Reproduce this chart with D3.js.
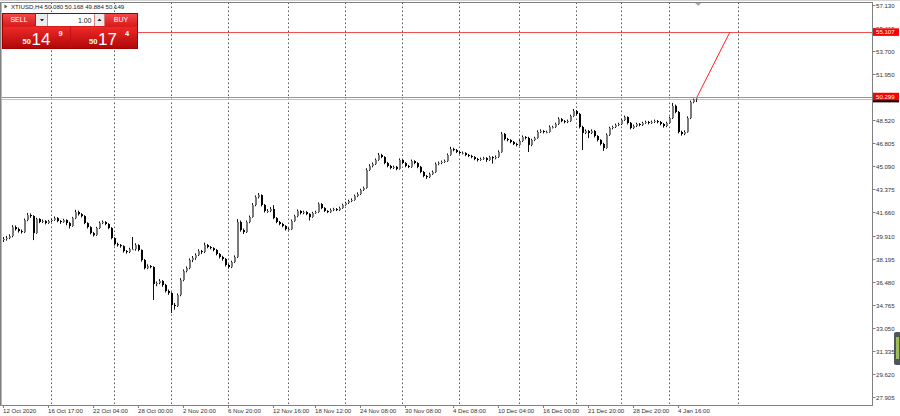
<!DOCTYPE html>
<html><head><meta charset="utf-8">
<script src="https://cdn.jsdelivr.net/npm/d3@7"></script>
<style>html,body{margin:0;padding:0;background:#fff;overflow:hidden}svg{display:block}text{font-family:"Liberation Sans",Arial,sans-serif}</style>
</head><body><svg id="c" width="900" height="416"></svg>
<script>
// ---- data ----
const symbol = "XTIUSD,H4";
const candles = [
[39.60,39.82,39.45,39.67],[39.67,39.90,39.55,39.74],[39.74,40.02,39.66,39.89],[39.89,40.70,39.80,40.56],[40.56,40.68,40.30,40.41],
[40.41,40.52,40.15,40.26],[40.26,40.38,40.08,40.19],[40.19,41.20,40.12,41.09],[41.09,41.62,41.00,41.46],[41.46,41.58,41.25,41.38],
[41.38,41.45,39.59,40.11],[40.11,41.25,40.05,41.16],[41.16,41.22,40.85,40.94],[40.94,41.12,40.86,41.01],[41.01,41.08,40.76,40.86],
[40.86,41.10,40.80,41.01],[41.01,41.20,40.92,41.09],[41.09,41.35,41.02,41.23],[41.23,41.30,40.92,41.01],[41.01,41.08,40.80,40.94],
[40.94,41.18,40.88,41.09],[41.09,41.14,40.70,40.86],[40.86,40.95,40.45,40.64],[40.64,41.32,40.58,41.23],[41.23,41.85,41.15,41.68],
[41.68,41.78,41.42,41.53],[41.53,41.60,41.28,41.38],[41.38,41.45,40.78,40.86],[40.86,40.92,40.45,40.56],[40.56,40.62,40.02,40.11],
[40.11,40.20,39.85,39.96],[39.96,40.58,39.90,40.49],[40.49,40.98,40.42,40.86],[40.86,41.05,40.78,40.94],[40.94,41.00,40.70,40.79],
[40.79,40.85,40.40,40.49],[40.49,40.55,39.65,39.74],[39.74,39.80,39.18,39.29],[39.29,39.40,39.10,39.22],[39.22,39.30,39.02,39.14],
[39.14,39.20,38.66,38.77],[38.77,38.85,38.58,38.70],[38.70,39.02,38.62,38.92],[38.92,39.82,38.85,38.92],[38.92,39.35,38.80,39.22],
[39.22,39.28,38.75,38.85],[38.85,38.90,37.98,38.10],[38.10,38.18,37.40,37.50],[37.50,37.78,37.42,37.65],[37.65,37.72,37.48,37.58],
[37.58,37.64,35.12,36.31],[36.31,36.50,36.15,36.39],[36.39,36.68,36.30,36.54],[36.54,36.60,36.10,36.24],[36.24,36.32,35.68,35.79],
[35.79,35.90,35.50,35.64],[35.64,35.70,34.15,34.75],[34.75,34.90,34.40,34.67],[34.67,35.60,34.60,35.49],[35.49,36.75,35.40,36.61],
[36.61,37.40,36.52,37.28],[37.28,37.62,37.18,37.50],[37.50,38.22,37.42,38.10],[38.10,38.40,37.95,38.25],[38.25,38.60,38.12,38.47],
[38.47,38.90,38.40,38.77],[38.77,38.85,38.55,38.70],[38.70,39.40,38.62,39.22],[39.22,39.30,38.98,39.07],[39.07,39.15,38.90,38.99],
[38.99,39.05,38.75,38.85],[38.85,38.92,38.45,38.55],[38.55,38.62,38.22,38.33],[38.33,38.42,38.05,38.18],[38.18,38.25,37.62,37.73],
[37.73,37.80,37.45,37.58],[37.58,38.05,37.50,37.95],[37.95,38.45,37.88,38.33],[38.33,41.15,38.25,40.94],[40.94,41.05,40.22,40.34],
[40.34,40.45,40.05,40.19],[40.19,41.05,40.12,40.94],[40.94,41.42,40.85,41.31],[41.31,42.35,41.25,42.21],[42.21,42.92,42.12,42.80],
[42.80,43.10,42.70,42.95],[42.95,43.00,42.10,42.21],[42.21,42.28,41.65,41.76],[41.76,41.90,41.62,41.76],[41.76,42.05,41.68,41.91],
[41.91,42.20,41.15,41.23],[41.23,41.30,40.85,40.94],[40.94,41.02,40.70,40.79],[40.79,40.88,40.55,40.64],[40.64,40.70,40.30,40.41],
[40.41,40.52,40.30,40.41],[40.41,41.12,40.35,41.01],[41.01,41.48,40.95,41.38],[41.38,41.88,41.30,41.76],[41.76,41.82,41.50,41.61],
[41.61,41.78,41.52,41.68],[41.68,41.75,41.45,41.53],[41.53,41.60,41.05,41.31],[41.31,41.70,41.25,41.61],[41.61,41.78,41.55,41.68],
[41.68,42.40,41.62,42.28],[42.28,42.35,41.90,41.98],[41.98,42.05,41.68,41.76],[41.76,41.82,41.60,41.68],[41.68,41.95,41.62,41.83],
[41.83,42.00,41.75,41.91],[41.91,41.98,41.75,41.83],[41.83,42.08,41.76,41.98],[41.98,42.30,41.92,42.21],[42.21,42.45,42.15,42.36],
[42.36,42.60,42.28,42.50],[42.50,42.70,42.42,42.58],[42.58,42.98,42.52,42.88],[42.88,43.15,42.80,43.03],[43.03,43.42,42.96,43.33],
[43.33,43.58,43.25,43.48],[43.48,44.95,43.42,44.82],[44.82,45.25,44.75,45.12],[45.12,45.38,45.02,45.27],[45.27,45.68,45.20,45.57],
[45.57,46.09,45.50,45.94],[45.94,46.02,45.70,45.79],[45.79,45.85,45.25,45.34],[45.34,45.42,45.02,45.12],[45.12,45.20,44.88,44.97],
[44.97,45.15,44.90,45.05],[45.05,45.12,44.80,44.90],[44.90,45.68,44.85,45.57],[45.57,45.62,45.25,45.34],[45.34,45.40,45.02,45.12],
[45.12,45.20,44.96,45.05],[45.05,45.60,44.98,45.49],[45.49,45.55,45.25,45.34],[45.34,45.40,44.95,45.05],[45.05,45.12,44.58,44.67],
[44.67,44.75,44.28,44.37],[44.37,44.45,44.15,44.30],[44.30,44.62,44.22,44.52],[44.52,44.78,44.45,44.67],[44.67,45.38,44.60,45.27],
[45.27,45.45,45.18,45.34],[45.34,45.52,45.25,45.42],[45.42,45.60,45.35,45.49],[45.49,46.05,45.42,45.94],[45.94,46.55,45.88,46.39],
[46.39,46.48,46.22,46.31],[46.31,46.38,46.08,46.16],[46.16,46.25,46.00,46.09],[46.09,46.20,45.98,46.09],[46.09,46.15,45.85,45.94],
[45.94,46.02,45.78,45.86],[45.86,45.95,45.70,45.79],[45.79,45.85,45.55,45.64],[45.64,45.72,45.45,45.57],[45.57,45.75,45.50,45.64],
[45.64,45.80,45.58,45.71],[45.71,45.78,45.42,45.57],[45.57,45.88,45.50,45.79],[45.79,45.85,45.30,45.71],[45.71,45.90,45.62,45.79],
[45.79,46.28,45.72,46.16],[46.16,47.65,46.10,47.51],[47.51,47.58,47.02,47.13],[47.13,47.22,46.95,47.06],[47.06,47.12,46.82,46.91],
[46.91,46.98,46.68,46.76],[46.76,46.85,46.58,46.69],[46.69,47.08,46.62,46.98],[46.98,47.40,46.90,47.28],[47.28,47.35,47.10,47.21],
[47.21,47.30,46.16,46.69],[46.69,47.15,46.60,47.06],[47.06,47.30,46.98,47.21],[47.21,47.78,47.15,47.66],[47.66,47.85,47.58,47.73],
[47.73,47.80,47.55,47.66],[47.66,47.75,47.56,47.66],[47.66,48.15,47.60,48.03],[48.03,48.12,47.92,48.03],[48.03,48.35,47.96,48.25],
[48.25,48.75,48.18,48.62],[48.62,48.70,48.38,48.47],[48.47,48.55,48.30,48.40],[48.40,48.58,48.32,48.47],[48.47,48.95,48.40,48.85],
[48.85,49.37,48.78,49.22],[49.22,49.30,48.90,49.00],[49.00,49.08,47.92,48.03],[48.03,48.12,46.31,47.58],[47.58,47.85,47.50,47.73],
[47.73,47.80,47.20,47.58],[47.58,47.85,47.50,47.73],[47.73,47.80,47.25,47.36],[47.36,47.42,46.95,47.06],[47.06,47.12,46.65,46.76],
[46.76,46.85,46.24,46.46],[46.46,47.55,46.40,47.43],[47.43,48.05,47.36,47.95],[47.95,48.12,47.85,48.03],[48.03,48.28,47.95,48.18],
[48.18,48.35,48.10,48.25],[48.25,48.65,48.18,48.55],[48.55,48.88,48.48,48.77],[48.77,48.82,48.22,48.33],[48.33,48.40,47.85,47.95],
[47.95,48.20,47.88,48.10],[48.10,48.35,48.02,48.25],[48.25,48.32,48.08,48.18],[48.18,48.42,48.10,48.33],[48.33,48.50,48.26,48.40],
[48.40,48.48,48.22,48.33],[48.33,48.50,48.26,48.40],[48.40,48.58,48.32,48.47],[48.47,48.55,48.30,48.40],[48.40,48.48,48.15,48.25],
[48.25,48.32,47.98,48.10],[48.10,48.42,48.02,48.33],[48.33,48.80,48.25,48.70],[48.70,49.82,48.62,49.60],[49.60,49.70,49.05,49.15],
[49.15,49.22,47.55,47.66],[47.66,47.75,47.38,47.51],[47.51,47.78,47.42,47.66],[47.66,48.82,47.60,48.70],[48.70,50.00,48.62,49.89],
[49.89,50.15,49.80,50.08],[50.080,50.168,49.884,50.149]
];
// 50.235 sits fully under the price tags in the reference, so it is not listed
const priceTicks = [57.130,55.415,53.700,51.950,48.520,46.805,45.090,43.375,41.660,39.910,38.195,36.480,34.765,33.050,31.335,29.620,27.905];
const timeLabels = ["12 Oct 2020","16 Oct 17:00","22 Oct 04:00","28 Oct 00:00","2 Nov 20:00","6 Nov 20:00","12 Nov 16:00","18 Nov 12:00","24 Nov 08:00","30 Nov 08:00","4 Dec 08:00","10 Dec 04:00","16 Dec 00:00","21 Dec 20:00","28 Dec 20:00","4 Jan 16:00"];
const timeLabelBars = [0,15,30,45,60,75,90,104,119,134,150,165,180,195,210,225];
const weekSeparatorBars = [16,37,56,75,95,114,133,152,172,191,206,222,245];
const bid = 50.149, ask = 50.174;
const lotSize = "1.00";
const levelLine = 55.107;
const askLine = 50.299;
const trendLine = [[231.3,50.25],[242.3,55.107]];

// ---- layout ----
const svg = d3.select("#c");
const L=0.5, R=872.5, T=2.5, B=405.5;
const x = d3.scaleLinear().domain([0, candles.length-1]).range([3, 696]);
const y = d3.scaleLinear().domain([27.905, 57.130]).range([396.7, 5]);

svg.append("line").attr("x1",0).attr("x2",900).attr("y1",0.5).attr("y2",0.5).attr("stroke","#d4d4d4");

// vertical dotted grid
svg.append("g").selectAll("line").data(weekSeparatorBars).join("line")
  .attr("x1",d=>Math.round(x(d))+0.5).attr("x2",d=>Math.round(x(d))+0.5)
  .attr("y1",T).attr("y2",B).attr("stroke","#5a5a5a").attr("stroke-width",1).attr("stroke-dasharray","1.5,2.5");

// horizontal level lines
const hy = v=>Math.round(y(v))+0.5;
svg.append("line").attr("x1",L).attr("x2",R).attr("y1",hy(levelLine)).attr("y2",hy(levelLine)).attr("stroke","#f05050");
svg.append("line").attr("x1",L).attr("x2",R).attr("y1",hy(bid)).attr("y2",hy(bid)).attr("stroke","#c0c0c0");
svg.append("line").attr("x1",L).attr("x2",R).attr("y1",hy(askLine)).attr("y2",hy(askLine)).attr("stroke","#f07070");

// candles
const g = svg.append("g");
candles.forEach((c,i)=>{
  const [o,h,l,cl]=c;
  const xi=Math.round(x(i));
  g.append("line").attr("x1",xi+0.5).attr("x2",xi+0.5).attr("y1",y(h)).attr("y2",y(l)).attr("stroke","#111").attr("stroke-width",1);
  const top=y(Math.max(o,cl)), bot=y(Math.min(o,cl));
  g.append("rect").attr("x",xi).attr("y",top).attr("width",2).attr("height",Math.max(1,bot-top))
    .attr("fill", cl>=o ? "#7a7a7a" : "#000");
});

// trend line
svg.append("line").attr("x1",x(trendLine[0][0])).attr("y1",y(trendLine[0][1]))
  .attr("x2",x(trendLine[1][0])).attr("y2",y(trendLine[1][1])).attr("stroke","#ff2020").attr("stroke-width",1);

// frame
svg.append("rect").attr("x",L).attr("y",T).attr("width",R-L).attr("height",B-T).attr("fill","none").attr("stroke","#808080");
svg.append("line").attr("x1",1.5).attr("x2",1.5).attr("y1",T).attr("y2",B).attr("stroke","#b8b8b8");

// price axis
const pa = svg.append("g");
const tagY = [levelLine, askLine, bid].map(v=>y(v));
priceTicks.forEach(v=>{
  const yy=Math.round(y(v))+0.5;
  pa.append("line").attr("x1",R).attr("x2",R+3).attr("y1",yy).attr("y2",yy).attr("stroke","#808080");
  const near = tagY.find(t=>Math.abs(t-yy)<8);
  const txt = pa.append("text").attr("x",876).attr("y",yy+2.2).attr("font-size",6.1).attr("fill","#333").text(v.toFixed(3));
  if(near!==undefined && near>yy){
    const id="clip"+Math.round(yy);
    pa.append("clipPath").attr("id",id).append("rect").attr("x",873).attr("y",yy-5).attr("width",27).attr("height",(near-3.8)-(yy-5));
    txt.attr("clip-path",`url(#${id})`);
  }
});
function priceTag(v,fill,withText){
  const yy=y(v);
  pa.append("rect").attr("x",873).attr("y",yy-3.8).attr("width",26).attr("height",7.6).attr("fill",fill);
  if(withText) pa.append("text").attr("x",876).attr("y",yy+2.2).attr("font-size",6.1).attr("fill","#fff").text(v.toFixed(3));
}
priceTag(bid,"#000",false);   // bid tag is covered by the ask tag, only its lower edge shows
priceTag(askLine,"#ff0000",true);
priceTag(levelLine,"#ff0000",true);

// time axis
const ta = svg.append("g");
timeLabels.forEach((t,k)=>{
  const xx=Math.round(x(timeLabelBars[k]));
  ta.append("line").attr("x1",xx+0.5).attr("x2",xx+0.5).attr("y1",B).attr("y2",B+2.5).attr("stroke","#808080");
  ta.append("text").attr("x",xx).attr("y",412.5).attr("font-size",6.1).attr("fill","#333").text(t);
});

// chart shift marker
svg.append("path").attr("d",`M${x(231.7)-3},3 L${x(231.7)+3},3 L${x(231.7)},6 Z`).attr("fill","#a8a8a8");

// scrollbar widget
svg.append("rect").attr("x",894).attr("y",332).attr("width",7).attr("height",33).attr("rx",2).attr("fill","#50565e");
svg.append("rect").attr("x",896).attr("y",337).attr("width",3).attr("height",22).attr("fill","#9cbf5a");

// header text
svg.append("path").attr("d","M4.5,4.5 L7.5,6.5 L4.5,8.5 Z").attr("fill","#555");
const ohlc = candles[candles.length-1];
svg.append("text").attr("x",11).attr("y",8.6).attr("font-size",6.1).attr("fill","#222")
  .text(`${symbol} ${ohlc[0].toFixed(3)} ${ohlc[1].toFixed(3)} ${ohlc[2].toFixed(3)} ${ohlc[3].toFixed(3)}`);

// one-click trading panel
const defs = svg.append("defs");
const gr = defs.append("linearGradient").attr("id","redg").attr("x1",0).attr("x2",0).attr("y1",0).attr("y2",1);
gr.append("stop").attr("offset","0%").attr("stop-color","#f02a2a");
gr.append("stop").attr("offset","100%").attr("stop-color","#b00808");
const gb = defs.append("linearGradient").attr("id","redb").attr("x1",0).attr("x2",0).attr("y1",0).attr("y2",1);
gb.append("stop").attr("offset","0%").attr("stop-color","#f24848");
gb.append("stop").attr("offset","100%").attr("stop-color","#d81c1c");
const p = svg.append("g");
p.append("rect").attr("x",2.5).attr("y",13.5).attr("width",135).attr("height",35).attr("fill","#c81010").attr("stroke","#a00000");
p.append("rect").attr("x",3).attr("y",14).attr("width",32).attr("height",12).attr("fill","url(#redb)");
p.append("rect").attr("x",105).attr("y",14).attr("width",32).attr("height",12).attr("fill","url(#redb)");
p.append("rect").attr("x",36).attr("y",14).attr("width",11.5).attr("height",12).attr("fill","#ececec");
p.append("rect").attr("x",48).attr("y",14).attr("width",46).attr("height",12).attr("fill","#fff");
p.append("rect").attr("x",94.5).attr("y",14).attr("width",10).attr("height",12).attr("fill","#ececec");
p.append("path").attr("d","M40,19 L44,19 L42,21.5 Z").attr("fill","#222");
p.append("path").attr("d","M97.5,21 L101.5,21 L99.5,18.5 Z").attr("fill","#222");
p.append("text").attr("x",19).attr("y",22.3).attr("text-anchor","middle").attr("font-size",7).attr("fill","#fff").text("SELL");
p.append("text").attr("x",121).attr("y",22.3).attr("text-anchor","middle").attr("font-size",7).attr("fill","#fff").text("BUY");
p.append("text").attr("x",91.5).attr("y",22.5).attr("text-anchor","end").attr("font-size",7).attr("fill","#222").text(lotSize);
p.append("rect").attr("x",3).attr("y",26.5).attr("width",67).attr("height",21.5).attr("fill","url(#redg)");
p.append("rect").attr("x",71).attr("y",26.5).attr("width",66).attr("height",21.5).attr("fill","url(#redg)");
function priceParts(v){const s=v.toFixed(3);return [s.slice(0,2), s.slice(3,5), s.slice(5)];}
function bigPrice(v,x0){
  const [a,b,c]=priceParts(v);
  p.append("text").attr("x",x0).attr("y",44).attr("font-size",7.5).attr("font-weight","bold").attr("fill","#fff").text(a);
  p.append("text").attr("x",x0+9).attr("y",45.2).attr("font-size",17).attr("fill","#fff").text(b);
  p.append("text").attr("x",x0+36).attr("y",35.5).attr("font-size",7.5).attr("font-weight","bold").attr("fill","#fff").text(c);
}
bigPrice(bid,22.5);
bigPrice(ask,89);
</script></body></html>
